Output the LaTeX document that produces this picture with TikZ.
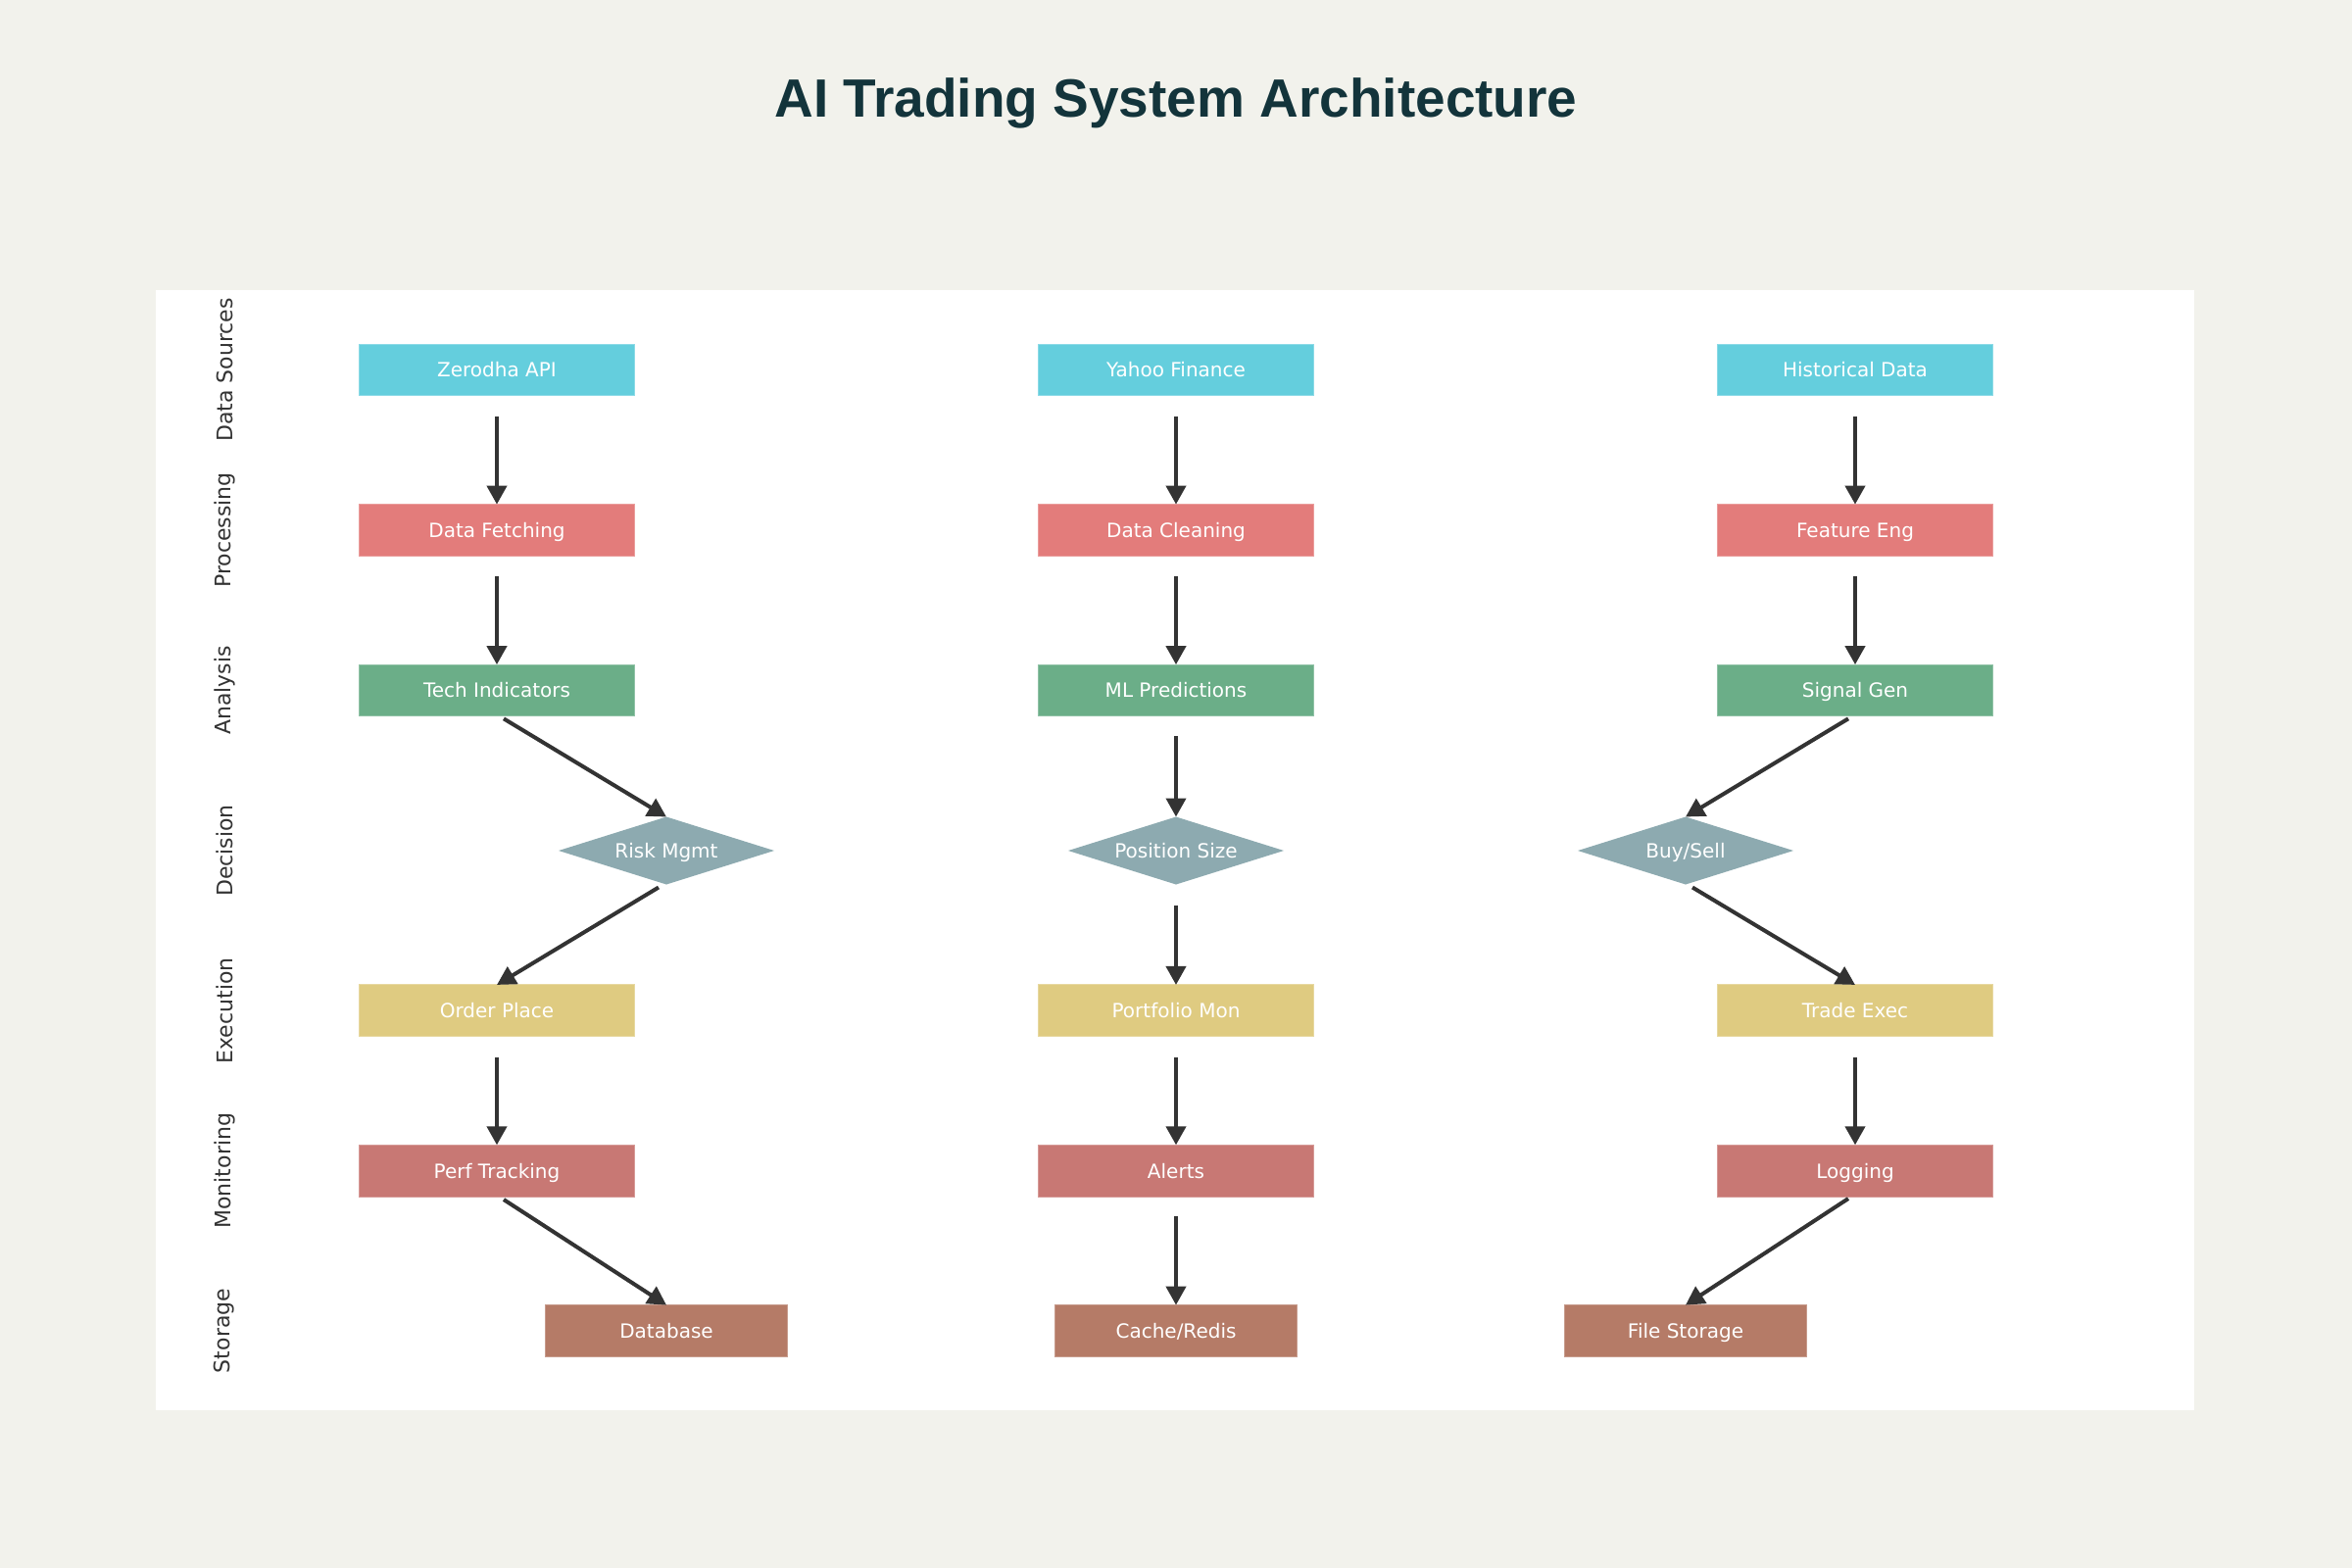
\documentclass[tikz,border=0pt]{standalone}
\usepackage{fontspec}
\setmainfont{DejaVu Sans}
\newfontfamily\titlefont{Liberation Sans}
\usetikzlibrary{arrows.meta,shapes.geometric}
\definecolor{bgc}{HTML}{F2F2EC}
\definecolor{titlec}{HTML}{13343B}
\definecolor{arrc}{HTML}{333333}
\definecolor{lanec}{HTML}{333333}
\definecolor{srcc}{HTML}{64CEDD}
\definecolor{procc}{HTML}{E37C7B}
\definecolor{anac}{HTML}{6BAE88}
\definecolor{decc}{HTML}{8DAAB0}
\definecolor{exec}{HTML}{DFCB81}
\definecolor{monc}{HTML}{C87874}
\definecolor{stoc}{HTML}{B57B67}
\tikzset{
  boxbase/.style={rectangle, inner sep=0pt, outer sep=0pt, minimum width=140.75pt, minimum height=26.35pt,
    font=\fontsize{10}{12}\selectfont, text=white, line width=0.5pt, text height=7.3pt, text depth=0pt},
  srcbox/.style={boxbase, fill=srcc, draw=srcc!75!white},
  procbox/.style={boxbase, fill=procc, draw=procc!75!white},
  anabox/.style={boxbase, fill=anac, draw=anac!75!white},
  exebox/.style={boxbase, fill=exec, draw=exec!75!white},
  monbox/.style={boxbase, fill=monc, draw=monc!75!white},
  stobox/.style={boxbase, fill=stoc, draw=stoc!75!white, minimum width=123.5pt},
  decbox/.style={diamond, aspect=3.19, inner sep=0pt, outer sep=0pt, minimum width=110pt, minimum height=34.5pt,
    fill=decc, font=\fontsize{10}{12}\selectfont, text=white, text height=7.3pt, text depth=0pt},
  lanelbl/.style={rotate=90, font=\fontsize{11}{13}\selectfont, text=lanec, inner sep=0pt},
  arr/.style={draw=arrc, line width=2pt, -{Triangle[length=9.5pt,width=10pt]}}
}
\begin{document}
\begin{tikzpicture}[x=0.5pt,y=-0.5pt]
\useasboundingbox (0,0) rectangle (2400,1600);
\fill[bgc] (0,0) rectangle (2400,1600);
\fill[white] (159,295.5) rectangle (2239,1439);
\node[font=\titlefont\bfseries\fontsize{27.5}{30}\selectfont, text=titlec, anchor=base, inner sep=0pt] (title) at (1200,119.3) {AI Trading System Architecture};

% lane labels
\node[lanelbl] (l1) at (229,377.5) {Data Sources};
\node[lanelbl] (l2) at (229,541) {Processing};
\node[lanelbl] (l3) at (229,704.5) {Analysis};
\node[lanelbl] (l4) at (229,868) {Decision};
\node[lanelbl] (l5) at (229,1031.3) {Execution};
\node[lanelbl] (l6) at (229,1194.7) {Monitoring};
\node[lanelbl] (l7) at (229,1358) {Storage};

% nodes
\node[srcbox] (zer) at (507,377.5) {Zerodha API};
\node[srcbox] (yah) at (1200,377.5) {Yahoo Finance};
\node[srcbox] (his) at (1893,377.5) {Historical Data};

\node[procbox] (fet) at (507,541) {Data Fetching};
\node[procbox] (cln) at (1200,541) {Data Cleaning};
\node[procbox] (fea) at (1893,541) {Feature Eng};

\node[anabox] (tec) at (507,704.5) {Tech Indicators};
\node[anabox] (mlp) at (1200,704.5) {ML Predictions};
\node[anabox] (sig) at (1893,704.5) {Signal Gen};

\node[decbox] (rsk) at (680,868) {Risk Mgmt};
\node[decbox] (pos) at (1200,868) {Position Size};
\node[decbox] (bys) at (1720,868) {Buy/Sell};

\node[exebox] (ord) at (507,1031.3) {Order Place};
\node[exebox] (pfm) at (1200,1031.3) {Portfolio Mon};
\node[exebox] (trd) at (1893,1031.3) {Trade Exec};

\node[monbox] (prf) at (507,1194.7) {Perf Tracking};
\node[monbox] (alr) at (1200,1194.7) {Alerts};
\node[monbox] (log) at (1893,1194.7) {Logging};

\node[stobox] (dbs) at (680,1358) {Database};
\node[stobox] (cch) at (1200,1358) {Cache/Redis};
\node[stobox] (fst) at (1720,1358) {File Storage};

% connectors
\draw[arr] ([yshift=-10.5pt]zer.south) -- (fet.north);
\draw[arr] ([yshift=-10.5pt]yah.south) -- (cln.north);
\draw[arr] ([yshift=-10.5pt]his.south) -- (fea.north);
\draw[arr] ([yshift=-10.5pt]fet.south) -- (tec.north);
\draw[arr] ([yshift=-10.5pt]cln.south) -- (mlp.north);
\draw[arr] ([yshift=-10.5pt]fea.south) -- (sig.north);
\draw[arr] ([xshift=3.5pt,yshift=-1.25pt]tec.south) -- (rsk.north);
\draw[arr] ([yshift=-10.25pt]mlp.south) -- (pos.north);
\draw[arr] ([xshift=-3.5pt,yshift=-1.25pt]sig.south) -- (bys.north);
\draw[arr] ([xshift=-4pt,yshift=-1.5pt]rsk.south) -- (ord.north);
\draw[arr] ([yshift=-10.5pt]pos.south) -- (pfm.north);
\draw[arr] ([xshift=3.5pt,yshift=-1.5pt]bys.south) -- (trd.north);
\draw[arr] ([yshift=-10.5pt]ord.south) -- (prf.north);
\draw[arr] ([yshift=-10.5pt]pfm.south) -- (alr.north);
\draw[arr] ([yshift=-10.5pt]trd.south) -- (log.north);
\draw[arr] ([xshift=3.5pt,yshift=-1.5pt]prf.south) -- (dbs.north);
\draw[arr] ([yshift=-10pt]alr.south) -- (cch.north);
\draw[arr] ([xshift=-3.5pt,yshift=-1pt]log.south) -- (fst.north);
\end{tikzpicture}
\end{document}
